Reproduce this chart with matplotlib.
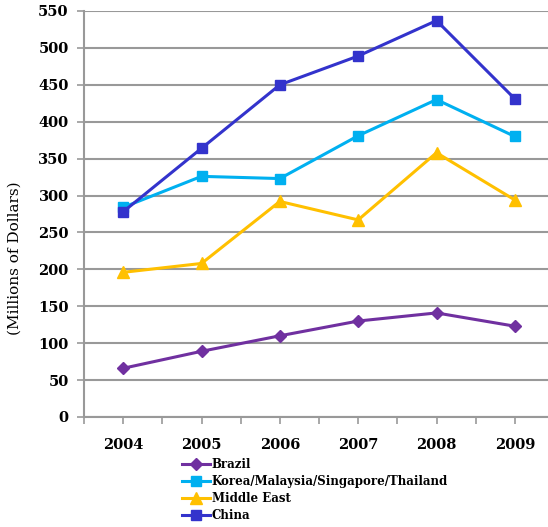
import numpy as np
import matplotlib.pyplot as plt
from matplotlib.ticker import MultipleLocator

years = ['2004', '2005', '2006', '2007', '2008', '2009']
brazil = [66, 89, 110, 130, 141, 123]
korea = [284, 326, 323, 381, 430, 380]
middle_east = [196, 208, 292, 267, 358, 294]
china = [278, 364, 450, 489, 537, 431]

plt.rcParams['font.family'] = 'DejaVu Serif'

fig = plt.figure(figsize=(5.48, 5.27), dpi=100)
ax = fig.add_axes([84 / 548, 1 - 417 / 527, 470 / 548, 406 / 527])

x = np.arange(len(years))
ax.plot(x, brazil, color='#7030A0', lw=2.2, marker='D', ms=6, label='Brazil')
ax.plot(x, korea, color='#00B0F0', lw=2.2, marker='s', ms=7.5,
        label='Korea/Malaysia/Singapore/Thailand')
ax.plot(x, middle_east, color='#FFC000', lw=2.2, marker='^', ms=8.5,
        label='Middle East')
ax.plot(x, china, color='#3333CC', lw=2.2, marker='s', ms=7.5, label='China')

ax.set_xlim(-0.5, 5.5)
ax.set_ylim(0, 550)
ax.yaxis.set_major_locator(MultipleLocator(50))
ax.set_xticks(x)
ax.set_xticklabels(years)
ax.set_xticks(np.arange(-0.5, 6, 1), minor=True)
ax.grid(axis='y', color='#999999', lw=1.5)
ax.set_axisbelow(True)

for s in ['top', 'right']:
    ax.spines[s].set_visible(False)
for s in ['left', 'bottom']:
    ax.spines[s].set_color('#999999')
    ax.spines[s].set_linewidth(1.5)

ax.tick_params(axis='both', which='both', color='#999999', width=1.2, length=5,
               labelsize=10.5)
ax.tick_params(axis='y', pad=6)
ax.tick_params(axis='x', pad=10)
for lbl in ax.get_xticklabels() + ax.get_yticklabels():
    lbl.set_fontweight('bold')

ax.set_ylabel('(Millions of Dollars)', fontsize=11)
ax.yaxis.set_label_coords(-0.132, 0.39)

fig.legend(loc='upper left', bbox_to_anchor=(182 / 548, 1 - 458 / 527),
           frameon=False, borderpad=0, borderaxespad=0, handlelength=2.4,
           handletextpad=0.1, labelspacing=0.33,
           prop={'size': 8.5, 'weight': 'bold'})

fig.savefig('out.png', dpi=100)
